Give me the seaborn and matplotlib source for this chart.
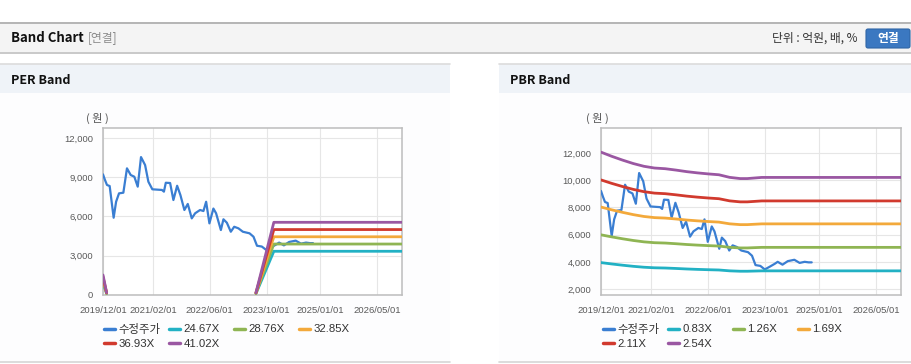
import numpy as np
import pandas as pd
import matplotlib
matplotlib.use("Agg")
import matplotlib.pyplot as plt
import matplotlib.dates as mdates
from matplotlib.patches import Rectangle, FancyBboxPatch
from matplotlib.lines import Line2D
from matplotlib.ticker import FuncFormatter
from matplotlib import font_manager
import seaborn as sns

# ---------------- data ----------------
price_dates = [
    "2019-12-01", "2019-12-18", "2020-01-04", "2020-01-27", "2020-03-01", "2020-03-22",
    "2020-04-16", "2020-05-23", "2020-06-23", "2020-07-25", "2020-08-25", "2020-09-23",
    "2020-10-21", "2020-11-25", "2020-12-23", "2021-01-26", "2021-04-18", "2021-05-05",
    "2021-05-21", "2021-06-27", "2021-07-25", "2021-08-26", "2021-09-23", "2021-10-27",
    "2021-11-25", "2021-12-29", "2022-01-27", "2022-03-10", "2022-04-08", "2022-05-01",
    "2022-05-29", "2022-07-02", "2022-07-25", "2022-09-04", "2022-09-26", "2022-10-25",
    "2022-11-28", "2022-12-27", "2023-02-01", "2023-03-11", "2023-05-07", "2023-06-10",
    "2023-07-10", "2023-08-20", "2023-09-27", "2023-11-10", "2023-12-20", "2024-01-15",
    "2024-02-25", "2024-04-10", "2024-06-05", "2024-07-20", "2024-09-01", "2024-10-05",
    "2024-10-31",
]
price_values = [
    9210, 8780, 8400, 8320, 5900, 7120,
    7760, 7810, 9670, 9160, 9030, 8270,
    10530, 9920, 8650, 8070, 8020, 7890,
    8570, 8550, 7250, 8340, 7630, 6490,
    6950, 5850, 6240, 6490, 6410, 7120,
    5470, 6600, 6240, 4960, 5780, 5520,
    4830, 5210, 5090, 4830, 4710, 4450,
    3760, 3700, 3440, 3650, 3850, 4000,
    3790, 4050, 4150, 3920, 4000, 3960,
    3960,
]

# PER band: EPS basis (two segments, gap where EPS is negative)
per_multiples = [24.67, 28.76, 32.85, 36.93, 41.02]
eps_seg1_dates = ["2019-12-01", "2020-01-01"]
eps_seg1_values = [37.3, 4.3]
eps_seg2_dates = ["2023-07-01", "2023-12-01", "2026-12-01"]
eps_seg2_values = [4.3, 135.3, 135.3]

# PBR band: BPS basis
pbr_multiples = [0.83, 1.26, 1.69, 2.11, 2.54]
bps_dates = [
    "2019-12-01", "2020-03-01", "2020-06-01", "2020-09-01", "2020-12-01", "2021-03-01",
    "2021-06-01", "2021-09-01", "2021-12-01", "2022-03-01", "2022-06-01", "2022-09-01",
    "2022-12-01", "2023-03-01", "2023-05-01", "2023-09-01", "2026-12-01",
]
bps_values = [
    4750, 4630, 4520, 4420, 4340, 4290,
    4270, 4230, 4185, 4150, 4120, 4095,
    4020, 3985, 3985, 4018, 4018,
]

x_ticks = ["2019-12-01", "2021-02-01", "2022-06-01", "2023-10-01", "2025-01-01", "2026-05-01"]
per_yticks = [0, 3000, 6000, 9000, 12000]
pbr_yticks = [2000, 4000, 6000, 8000, 10000, 12000]

price_label = "수정주가"
band_colors = ["#22b1c4", "#8fb553", "#f3a93b", "#d13a2e", "#9a57a2"]
price_color = "#3a7ed2"

# ---------------- style ----------------
sns.set_style("white")
plt.rcParams["font.family"] = ["Noto Sans CJK KR", "DejaVu Sans"]

installed = {f.name for f in font_manager.fontManager.ttflist}
tick_family = ["Liberation Sans Narrow"] if "Liberation Sans Narrow" in installed else ["Liberation Sans"]
tick_size = 7.8 if "Liberation Sans Narrow" in installed else 6.8
legend_family = ["Liberation Sans", "Noto Sans CJK KR"]

W, H = 912, 364
fig = plt.figure(figsize=(W / 100, H / 100), dpi=100)
fig.patch.set_facecolor("white")

# background decoration in pixel coords
bg = fig.add_axes([0, 0, 1, 1], zorder=0)
bg.set_xlim(0, W)
bg.set_ylim(H, 0)
bg.axis("off")
bg.add_patch(Rectangle((0, 22), W, 31, facecolor="#f4f4f4", edgecolor="none"))
bg.add_line(Line2D([0, W], [22.5, 22.5], color="#b5b5b5", lw=1.4))
bg.add_line(Line2D([0, W], [52.5, 52.5], color="#c9c9c9", lw=1.4))
for x0, x1 in [(0, 450), (499, W)]:
    bg.add_patch(Rectangle((x0, 93), x1 - x0, 269, facecolor="#fdfdfe", edgecolor="none"))
    bg.add_patch(Rectangle((x0, 64), x1 - x0, 29, facecolor="#eff3f8", edgecolor="none"))
    bg.add_line(Line2D([x0, x1], [64, 64], color="#dcdcdc", lw=1.2))
    bg.add_line(Line2D([x0, x1], [362, 362], color="#d6d6d6", lw=1.2))

bg.text(11, 38, "Band Chart", fontsize=9.5, fontweight="bold", color="#111111", va="center", ha="left")
bg.text(88, 38, "[연결]", fontsize=8.5, color="#8a8a8a", va="center", ha="left")
bg.text(858, 38, "단위 : 억원, 배, %", fontsize=8.5, color="#333333", va="center", ha="right")
bg.add_patch(FancyBboxPatch((866, 29), 44, 19, boxstyle="round,pad=0,rounding_size=2",
                            facecolor="#3b78c1", edgecolor="#2f65a6", lw=0.8))
bg.text(888, 38.5, "연결", fontsize=8.5, fontweight="bold", color="white", va="center", ha="center")
bg.text(11, 80, "PER Band", fontsize=9, fontweight="bold", color="#111111", va="center", ha="left")
bg.text(510, 80, "PBR Band", fontsize=9, fontweight="bold", color="#111111", va="center", ha="left")


def px_axes(left, top, right, bottom):
    return fig.add_axes([left / W, 1 - bottom / H, (right - left) / W, (bottom - top) / H], zorder=2)


xt = pd.to_datetime(x_ticks)
xmin, xmax = pd.Timestamp("2019-12-01"), pd.Timestamp("2026-12-01")
pdates = pd.to_datetime(price_dates)


def style_axes(ax, yticks, ylim):
    ax.set_facecolor("white")
    ax.set_xlim(xmin, xmax)
    ax.set_ylim(*ylim)
    ax.set_xticks(xt)
    ax.xaxis.set_major_formatter(mdates.DateFormatter("%Y/%m/%d"))
    ax.set_yticks(yticks)
    ax.yaxis.set_major_formatter(FuncFormatter(lambda v, p: f"{int(v):,}"))
    ax.grid(True, color="#e6e6e6", lw=0.8)
    ax.set_axisbelow(True)
    for s in ax.spines.values():
        s.set_color("#bdbdbd")
        s.set_linewidth(1.1)
    ax.tick_params(axis="both", which="major", length=5, width=0.8, color="#bdbdbd",
                   labelcolor="#5a5a5a", pad=2, direction="out")
    ax.tick_params(axis="x", pad=3)
    for lab in ax.get_xticklabels() + ax.get_yticklabels():
        lab.set_family(tick_family)
        lab.set_fontsize(tick_size)
    ax.set_xlabel("")
    ax.set_ylabel("")


def add_legend(ax, handles, labels, x0):
    xs = [x0, x0 + 65, x0 + 130, x0 + 195]
    for i, (h, lab) in enumerate(zip(handles, labels)):
        r, c = divmod(i, 4)
        y = 329.5 + r * 14.5
        leg = ax.legend(handles=[h], labels=[lab], loc="center left",
                        bbox_to_anchor=((xs[c] - 4) / W, 1 - y / H), bbox_transform=fig.transFigure,
                        frameon=False, handlelength=0.95, handletextpad=0.3, borderpad=0,
                        borderaxespad=0, labelcolor="#333333",
                        prop={"family": legend_family, "size": 8.2})
        ax.add_artist(leg)
    ax.legend_ = None


# ---------------- PER chart ----------------
ax1 = px_axes(103, 128, 402, 295)
sns.lineplot(x=pdates, y=price_values, ax=ax1, color=price_color, lw=1.6, legend=False, zorder=3)
per_rows = []
for m in per_multiples:
    for seg, (ds, vs) in enumerate([(eps_seg1_dates, eps_seg1_values), (eps_seg2_dates, eps_seg2_values)]):
        for d, v in zip(ds, vs):
            per_rows.append({"date": pd.Timestamp(d), "value": v * m, "band": f"{m:.2f}X", "seg": seg})
per_df = pd.DataFrame(per_rows)
per_labels = [f"{m:.2f}X" for m in per_multiples]
sns.lineplot(data=per_df, x="date", y="value", hue="band", units="seg", estimator=None,
             hue_order=per_labels, palette=band_colors, lw=2.0, ax=ax1, legend=False, zorder=4)
style_axes(ax1, per_yticks, (0, 12750))
ax1.text(-6 / 299, 1 + 10 / 167, "( 원 )", transform=ax1.transAxes, fontsize=8, color="#555555",
         ha="center", va="center")

handles = [Line2D([], [], color=price_color, lw=2.5)] + [Line2D([], [], color=c, lw=2.5) for c in band_colors]
add_legend(ax1, handles, [price_label] + per_labels, 108)

# ---------------- PBR chart ----------------
ax2 = px_axes(601, 128, 901, 295)
sns.lineplot(x=pdates, y=price_values, ax=ax2, color=price_color, lw=1.6, legend=False, zorder=3)
pbr_rows = []
for m in pbr_multiples:
    for d, v in zip(bps_dates, bps_values):
        pbr_rows.append({"date": pd.Timestamp(d), "value": v * m, "band": f"{m:.2f}X"})
pbr_df = pd.DataFrame(pbr_rows)
pbr_labels = [f"{m:.2f}X" for m in pbr_multiples]
sns.lineplot(data=pbr_df, x="date", y="value", hue="band", estimator=None,
             hue_order=pbr_labels, palette=band_colors, lw=2.0, ax=ax2, legend=False, zorder=4)
style_axes(ax2, pbr_yticks, (1560, 13840))
ax2.text(-4 / 300, 1 + 10 / 167, "( 원 )", transform=ax2.transAxes, fontsize=8, color="#555555",
         ha="center", va="center")
add_legend(ax2, handles, [price_label] + pbr_labels, 607)

fig.savefig("out.png", dpi=100, facecolor=fig.get_facecolor())
